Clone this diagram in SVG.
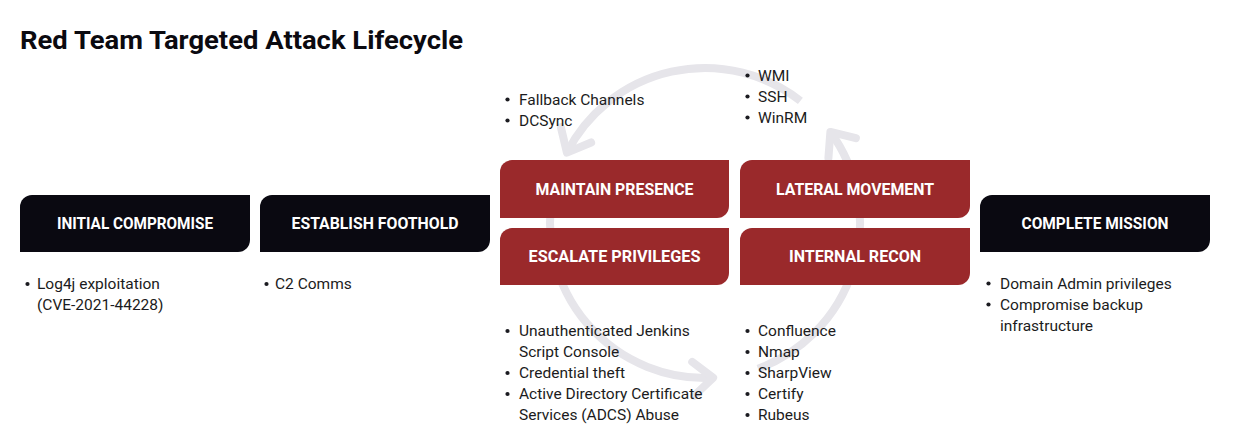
<svg xmlns="http://www.w3.org/2000/svg" width="1256" height="440" viewBox="0 0 1256 440">
  <style>
    .title { font-family: Roboto, "Liberation Sans", sans-serif; font-size: 26.5px; font-weight: 700; fill: #0b0a10; }
    .dark { fill: #0a0911; }
    .red { fill: #9a292b; }
    .lbl { font-family: Roboto, "Liberation Sans", sans-serif; font-size: 16px; font-weight: 700; fill: #ffffff; text-anchor: middle; }
    .txt { font-family: Roboto, "Liberation Sans", sans-serif; font-size: 15.5px; fill: #1b1b20; }
    .bul { fill: #1b1b20; }
    .arc { fill: none; stroke: #e6e5ea; stroke-width: 8; }
  </style>
  <defs>
    <marker id="chev" viewBox="-30 -30 40 60" markerWidth="40" markerHeight="60" refX="0" refY="0" orient="auto" markerUnits="userSpaceOnUse">
      <path d="M-20,-17 L0,0 L-20,17" fill="none" stroke="#e6e5ea" stroke-width="8" stroke-linecap="round" stroke-linejoin="round"/>
    </marker>
  </defs>
  <rect width="1256" height="440" fill="#ffffff"/>
  <text class="title" x="20" y="48.5" textLength="443" lengthAdjust="spacingAndGlyphs">Red Team Targeted Attack Lifecycle</text>

  <g id="connectors">
    <path class="arc" d="M800.4,100.9 A155,155 0 0 0 566.9,152.6" marker-end="url(#chev)"/>
    <path class="arc" d="M553.4,190.8 A155,155 0 0 0 713.1,377.8" marker-end="url(#chev)"/>
    <path class="arc" d="M758,368.7 A155,155 0 0 0 830.4,131.9" marker-end="url(#chev)"/>
  </g>

  <g id="initial-compromise">
    <path class="dark" d="M32,195 H250 V240 A12,12 0 0 1 238,252 H20 V207 A12,12 0 0 1 32,195 Z"/>
    <text class="lbl" x="135" y="228.5" textLength="156" lengthAdjust="spacingAndGlyphs">INITIAL COMPROMISE</text>
    <circle class="bul" cx="27.5" cy="284" r="2.1"/>
    <text class="txt" x="37" y="289">Log4j exploitation</text>
    <text class="txt" x="37" y="310">(CVE-2021-44228)</text>
  </g>

  <g id="establish-foothold">
    <path class="dark" d="M272,195 H490 V240 A12,12 0 0 1 478,252 H260 V207 A12,12 0 0 1 272,195 Z"/>
    <text class="lbl" x="375" y="228.5" textLength="167" lengthAdjust="spacingAndGlyphs">ESTABLISH FOOTHOLD</text>
    <circle class="bul" cx="266.5" cy="284" r="2.1"/>
    <text class="txt" x="275" y="289">C2 Comms</text>
  </g>

  <g id="maintain-presence">
    <path class="red" d="M512,160 H729 V206 A12,12 0 0 1 717,218 H500 V172 A12,12 0 0 1 512,160 Z"/>
    <text class="lbl" x="614.5" y="195" textLength="158" lengthAdjust="spacingAndGlyphs">MAINTAIN PRESENCE</text>
    <circle class="bul" cx="507.5" cy="99.5" r="2.1"/>
    <text class="txt" x="519" y="104.5">Fallback Channels</text>
    <circle class="bul" cx="507.5" cy="120.5" r="2.1"/>
    <text class="txt" x="519" y="125.5">DCSync</text>
  </g>

  <g id="escalate-privileges">
    <path class="red" d="M512,228 H729 V273 A12,12 0 0 1 717,285 H500 V240 A12,12 0 0 1 512,228 Z"/>
    <text class="lbl" x="614.5" y="262" textLength="172" lengthAdjust="spacingAndGlyphs">ESCALATE PRIVILEGES</text>
    <circle class="bul" cx="507.5" cy="331" r="2.1"/>
    <text class="txt" x="519" y="336">Unauthenticated Jenkins</text>
    <text class="txt" x="519" y="357">Script Console</text>
    <circle class="bul" cx="507.5" cy="373" r="2.1"/>
    <text class="txt" x="519" y="378">Credential theft</text>
    <circle class="bul" cx="507.5" cy="394" r="2.1"/>
    <text class="txt" x="519" y="399">Active Directory Certificate</text>
    <text class="txt" x="519" y="420">Services (ADCS) Abuse</text>
  </g>

  <g id="lateral-movement">
    <path class="red" d="M752,160 H970 V206 A12,12 0 0 1 958,218 H740 V172 A12,12 0 0 1 752,160 Z"/>
    <text class="lbl" x="855" y="195" textLength="158" lengthAdjust="spacingAndGlyphs">LATERAL MOVEMENT</text>
    <circle class="bul" cx="747.5" cy="75.5" r="2.1"/>
    <text class="txt" x="758" y="80.5">WMI</text>
    <circle class="bul" cx="747.5" cy="96.5" r="2.1"/>
    <text class="txt" x="758" y="101.5">SSH</text>
    <circle class="bul" cx="747.5" cy="117.5" r="2.1"/>
    <text class="txt" x="758" y="122.5">WinRM</text>
  </g>

  <g id="internal-recon">
    <path class="red" d="M752,228 H970 V273 A12,12 0 0 1 958,285 H740 V240 A12,12 0 0 1 752,228 Z"/>
    <text class="lbl" x="855" y="262" textLength="132" lengthAdjust="spacingAndGlyphs">INTERNAL RECON</text>
    <circle class="bul" cx="747.5" cy="331" r="2.1"/>
    <text class="txt" x="758" y="336">Confluence</text>
    <circle class="bul" cx="747.5" cy="352" r="2.1"/>
    <text class="txt" x="758" y="357">Nmap</text>
    <circle class="bul" cx="747.5" cy="373" r="2.1"/>
    <text class="txt" x="758" y="378">SharpView</text>
    <circle class="bul" cx="747.5" cy="394" r="2.1"/>
    <text class="txt" x="758" y="399">Certify</text>
    <circle class="bul" cx="747.5" cy="415" r="2.1"/>
    <text class="txt" x="758" y="420">Rubeus</text>
  </g>

  <g id="complete-mission">
    <path class="dark" d="M992,195 H1210 V240 A12,12 0 0 1 1198,252 H980 V207 A12,12 0 0 1 992,195 Z"/>
    <text class="lbl" x="1095" y="228.5" textLength="147" lengthAdjust="spacingAndGlyphs">COMPLETE MISSION</text>
    <circle class="bul" cx="988.5" cy="283.5" r="2.1"/>
    <text class="txt" x="1000" y="288.5">Domain Admin privileges</text>
    <circle class="bul" cx="988.5" cy="304.5" r="2.1"/>
    <text class="txt" x="1000" y="309.5">Compromise backup</text>
    <text class="txt" x="1000" y="330.5">infrastructure</text>
  </g>
</svg>
